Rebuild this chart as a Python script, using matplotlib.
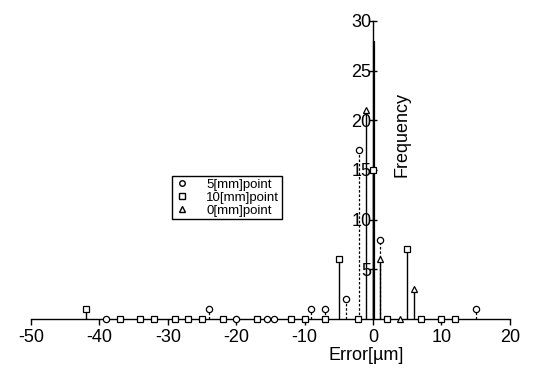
import matplotlib
matplotlib.use("Agg")
import matplotlib.pyplot as plt
from matplotlib.lines import Line2D

plt.rcParams['font.family'] = ['Liberation Sans', 'DejaVu Sans']
plt.rcParams['axes.unicode_minus'] = False

# 5[mm] point (open circles)
err_5 = [-39, -24, -20, -15.5, -14.5, -9, -7, -4, -2, 1, 15]
freq_5 = [0, 1, 0, 0, 0, 1, 1, 2, 17, 8, 1]
# 10[mm] point (open squares)
err_10 = [-42, -37, -34, -32, -29, -27, -25, -22, -17, -12, -10, -7, -5, -2.2, 0, 2, 5, 7, 10, 12]
freq_10 = [1, 0, 0, 0, 0, 0, 0, 0, 0, 0, 0, 0, 6, 0, 15, 0, 7, 0, 0, 0]
# 0[mm] point (open triangles)
err_0 = [-1, 1, 4, 6]
freq_0 = [21, 6, 0, 3]
# tall stem on the axis, marker not visible
peak_x = [0.15]
peak_y = [28]

fig = plt.figure(figsize=(5.38, 3.69), dpi=100)
ax = fig.add_axes([0.0576, 0.1355, 0.890, 0.8076])

ax.vlines(err_5, 0, freq_5, colors='black', linestyles=(0, (2, 1.5)), linewidth=0.9)
ax.vlines(err_10, 0, freq_10, colors='black', linewidth=1.0)
ax.vlines(err_0, 0, freq_0, colors='black', linewidth=1.0)
ax.vlines(peak_x, 0, peak_y, colors='black', linewidth=1.6)

ax.plot(err_5, freq_5, 'o', ms=4.5, mfc='white', mec='black', mew=0.9, clip_on=False, zorder=3)
ax.plot(err_10, freq_10, 's', ms=5, mfc='white', mec='black', mew=0.9, clip_on=False, zorder=3)
ax.plot(err_0, freq_0, '^', ms=5, mfc='white', mec='black', mew=0.9, clip_on=False, zorder=3)

ax.set_xlim(-50, 20)
ax.set_ylim(0, 30)
ax.spines['top'].set_visible(False)
ax.spines['right'].set_visible(False)
ax.spines['left'].set_position(('data', 0))
ax.spines['left'].set_linewidth(1.0)
ax.spines['bottom'].set_linewidth(1.0)

ax.set_xticks(range(-50, 21, 10))
ax.set_yticks([5, 10, 15, 20, 25, 30])
ax.tick_params(axis='x', direction='out', length=4, width=1, labelsize=13, pad=3)
ax.tick_params(axis='y', direction='inout', length=6, width=1, labelsize=13, pad=-2)
ax.patch.set_alpha(0)

ax.text(-1, -2.8, 'Error[µm]', ha='center', va='top', fontsize=13)
ax.text(4.2, 18.6, 'Frequency', rotation=90, ha='center', va='center', fontsize=13)

handles = [
    Line2D([], [], ls='none', marker='o', ms=4, mfc='white', mec='black'),
    Line2D([], [], ls='none', marker='s', ms=4.5, mfc='white', mec='black'),
    Line2D([], [], ls='none', marker='^', ms=4.5, mfc='white', mec='black'),
]
leg = ax.legend(handles, ['5[mm]point', '10[mm]point', '0[mm]point'],
                loc='upper left', bbox_to_anchor=(0.294, 0.48), fontsize=9.5,
                frameon=True, fancybox=False, edgecolor='black', framealpha=1,
                handlelength=1.2, handletextpad=1.2, borderpad=0.2, labelspacing=0.05,
                borderaxespad=0)
leg.get_frame().set_linewidth(1.0)

fig.savefig('out.png', dpi=100)
